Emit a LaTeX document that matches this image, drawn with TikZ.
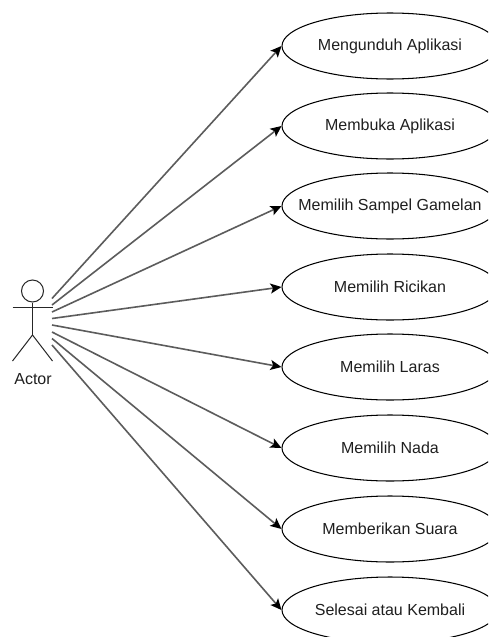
\documentclass[tikz,border=0pt]{standalone}
\usepackage{fontspec}
\setmainfont{Liberation Sans}
\usetikzlibrary{shapes.geometric,arrows.meta}
\definecolor{lnk}{gray}{0.36}
\definecolor{txt}{gray}{0.12}
\newcommand{\uctext}[1]{\makebox[0pt][c]{#1}}
\tikzset{
  usecase/.style={ellipse,draw=black,line width=1.05pt,fill=white,minimum width=216pt,minimum height=66pt,inner sep=0pt,text=txt,font=\fontsize{16}{18}\selectfont},
  assoc/.style={draw=lnk,line width=1.6pt,-{Stealth[length=11pt,width=10pt,inset=2.5pt,fill=black,color=black]}},
  stick/.style={draw=black!85,line width=1pt},
}
\begin{document}
\begin{tikzpicture}[x=1pt,y=-1pt]
\useasboundingbox (0,0) rectangle (488,637);
\clip (0,0) rectangle (488,637);
\fill[white] (0,0) rectangle (488,637);
\node[usecase] (u1) at (390,46) {\uctext{Mengunduh Aplikasi}};
\node[usecase] (u2) at (390,126) {\uctext{Membuka Aplikasi}};
\node[usecase] (u3) at (390,206) {\uctext{Memilih Sampel Gamelan}};
\node[usecase] (u4) at (390,287) {\uctext{Memilih Ricikan}};
\node[usecase] (u5) at (390,367) {\uctext{Memilih Laras}};
\node[usecase] (u6) at (390,448) {\uctext{Memilih Nada}};
\node[usecase] (u7) at (390,529) {\uctext{Memberikan Suara}};
\node[usecase] (u8) at (390,610) {\uctext{Selesai atau Kembali}};
% actor
\node[circle,stick,minimum size=22pt,inner sep=0pt] (head) at (32.5,291) {};
\coordinate (hip) at (32.5,335);
\coordinate (armL) at (12.5,307.5);
\coordinate (armR) at (52.5,307.5);
\coordinate (footL) at (12.5,361);
\coordinate (footR) at (52.5,361);
\draw[stick] (head.south) -- (hip);
\draw[stick] (armL) -- (armR);
\draw[stick] (footL) -- (hip) -- (footR);
\node[text=txt,font=\fontsize{16}{18}\selectfont,inner sep=0pt] (lab) at (33,379) {Actor};
\foreach \i/\y in {1/298.5,2/305,3/312,4/318.5,5/325,6/332,7/338.5,8/345}{
  \coordinate (s\i) at (52,\y);
  \draw[assoc] (s\i) -- (u\i.west);
}
\end{tikzpicture}
\end{document}
